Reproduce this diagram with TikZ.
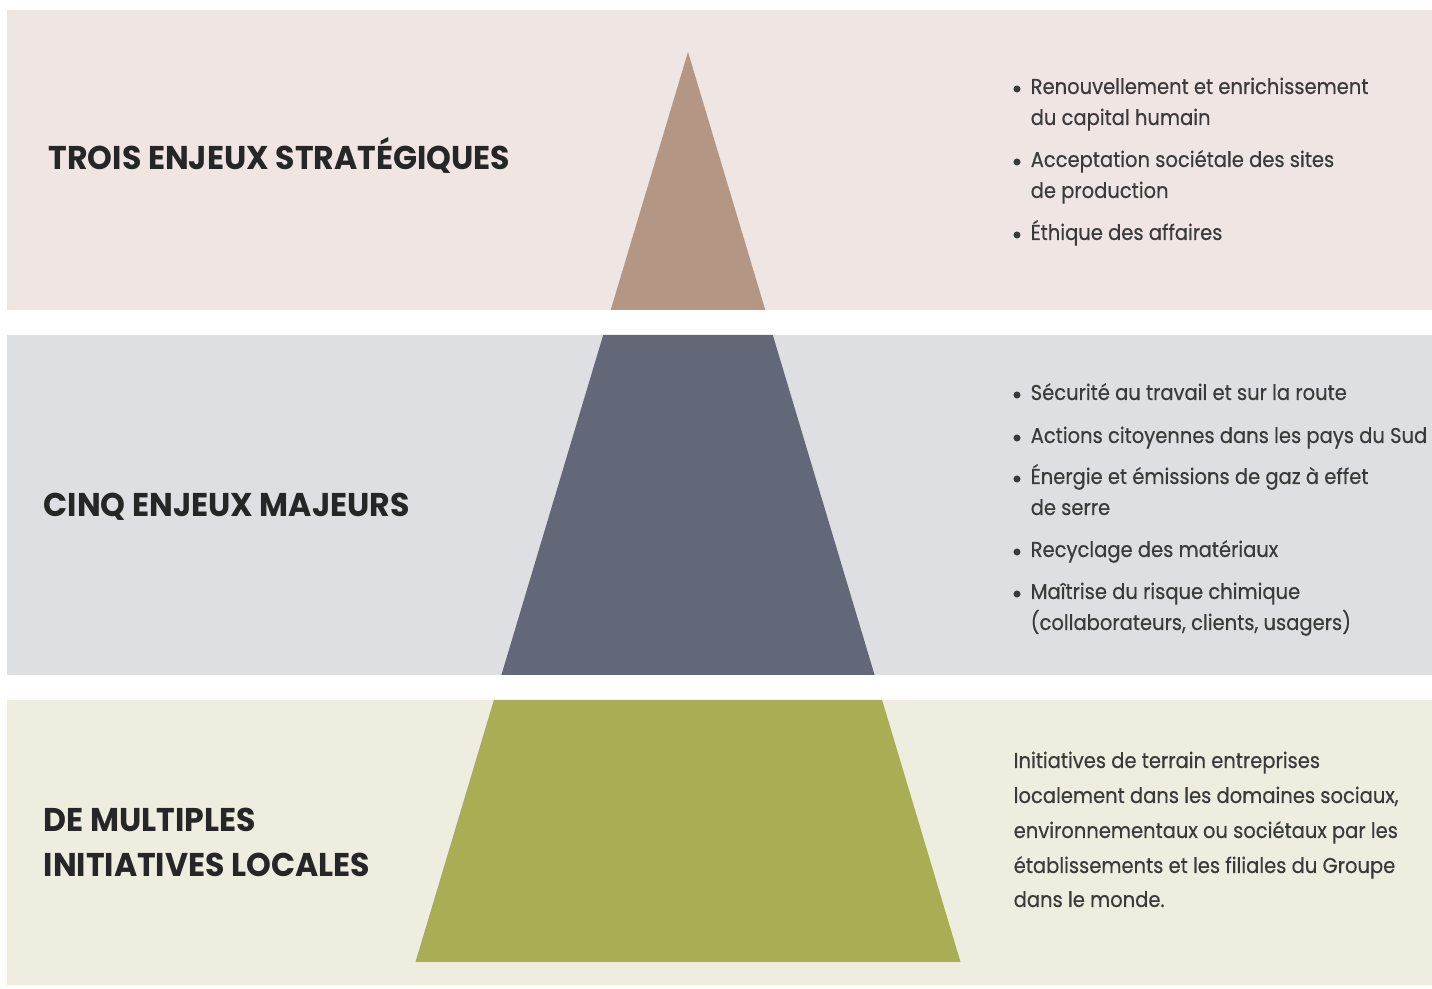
\documentclass[tikz,border=0pt]{standalone}
\usepackage{fontspec}
\setmainfont{Poppins}
\newfontfamily\bodyfont{Poppins}[FakeStretch=0.91, FakeBold=0.4]
\newfontfamily\headfont{Poppins}[FakeStretch=0.96]
\definecolor{bandA}{HTML}{EFE6E3}
\definecolor{bandB}{HTML}{DEDFE3}
\definecolor{bandC}{HTML}{EFECE0}
\definecolor{pyrA}{HTML}{B39683}
\definecolor{pyrB}{HTML}{636878}
\definecolor{pyrC}{HTML}{A9AE55}
\definecolor{txt}{HTML}{3A3A3A}
\definecolor{headtxt}{HTML}{262626}
\tikzset{
  body/.style={anchor=base west, inner sep=0pt, text=txt, font=\bodyfont\fontsize{6.1}{7}\selectfont},
  head/.style={anchor=base west, inner sep=0pt, text=headtxt, font=\headfont\bfseries\fontsize{9.35}{11}\selectfont},
  bul/.style={circle, fill=txt, inner sep=0pt, minimum size=2pt},
}
\begin{document}
\begin{tikzpicture}[x=0.01cm,y=-0.01cm]
\useasboundingbox (0,0) rectangle (1432,989);
\fill[white] (0,0) rectangle (1432,989);
% bands
\fill[bandA] (7,10) rectangle (1432,310);
\fill[bandB] (7,335) rectangle (1432,675);
\fill[bandC] (7,700) rectangle (1432,985);
% pyramid
\fill[pyrA] (688,52) -- (765.3,310) -- (610.7,310) -- cycle;
\fill[pyrB] (603.2,335) -- (772.8,335) -- (874.6,675) -- (501.4,675) -- cycle;
\fill[pyrC] (493.9,700) -- (882.1,700) -- (960.5,962) -- (415.5,962) -- cycle;
% headings
\node[head] (h1) at (48,170) {TROIS ENJEUX STRATÉGIQUES};
\node[head] (h2) at (43,517) {CINQ ENJEUX MAJEURS};
\node[head] (h3a) at (43,832) {DE MULTIPLES};
\node[head] (h3b) at (43,877) {INITIATIVES LOCALES};
% band 1 bullets
\node[bul] (b11) at (1017,89) {};
\node[body] (t11a) at (1030,94) {Renouvellement et enrichissement};
\node[body] (t11b) at (1030,125) {du capital humain};
\node[bul] (b12) at (1017,162) {};
\node[body] (t12a) at (1030,167) {Acceptation sociétale des sites};
\node[body] (t12b) at (1030,198) {de production};
\node[bul] (b13) at (1017,235) {};
\node[body] (t13) at (1030,240) {Éthique des affaires};
% band 2 bullets
\node[bul] (b21) at (1017,395) {};
\node[body] (t21) at (1030,400) {Sécurité au travail et sur la route};
\node[bul] (b22) at (1017,438) {};
\node[body] (t22) at (1030,443) {Actions citoyennes dans les pays du Sud};
\node[bul] (b23) at (1017,479) {};
\node[body] (t23a) at (1030,484) {Énergie et émissions de gaz à effet};
\node[body] (t23b) at (1030,515) {de serre};
\node[bul] (b24) at (1017,552) {};
\node[body] (t24) at (1030,557) {Recyclage des matériaux};
\node[bul] (b25) at (1017,594) {};
\node[body] (t25a) at (1030,599) {Maîtrise du risque chimique};
\node[body] (t25b) at (1030,630) {(collaborateurs, clients, usagers)};
% band 3 paragraph
\node[body] (p1) at (1013,768) {Initiatives de terrain entreprises};
\node[body] (p2) at (1013,803) {localement dans les domaines sociaux,};
\node[body] (p3) at (1013,838) {environnementaux ou sociétaux par les};
\node[body] (p4) at (1013,873) {établissements et les filiales du Groupe};
\node[body] (p5) at (1013,907) {dans le monde.};
\end{tikzpicture}
\end{document}
